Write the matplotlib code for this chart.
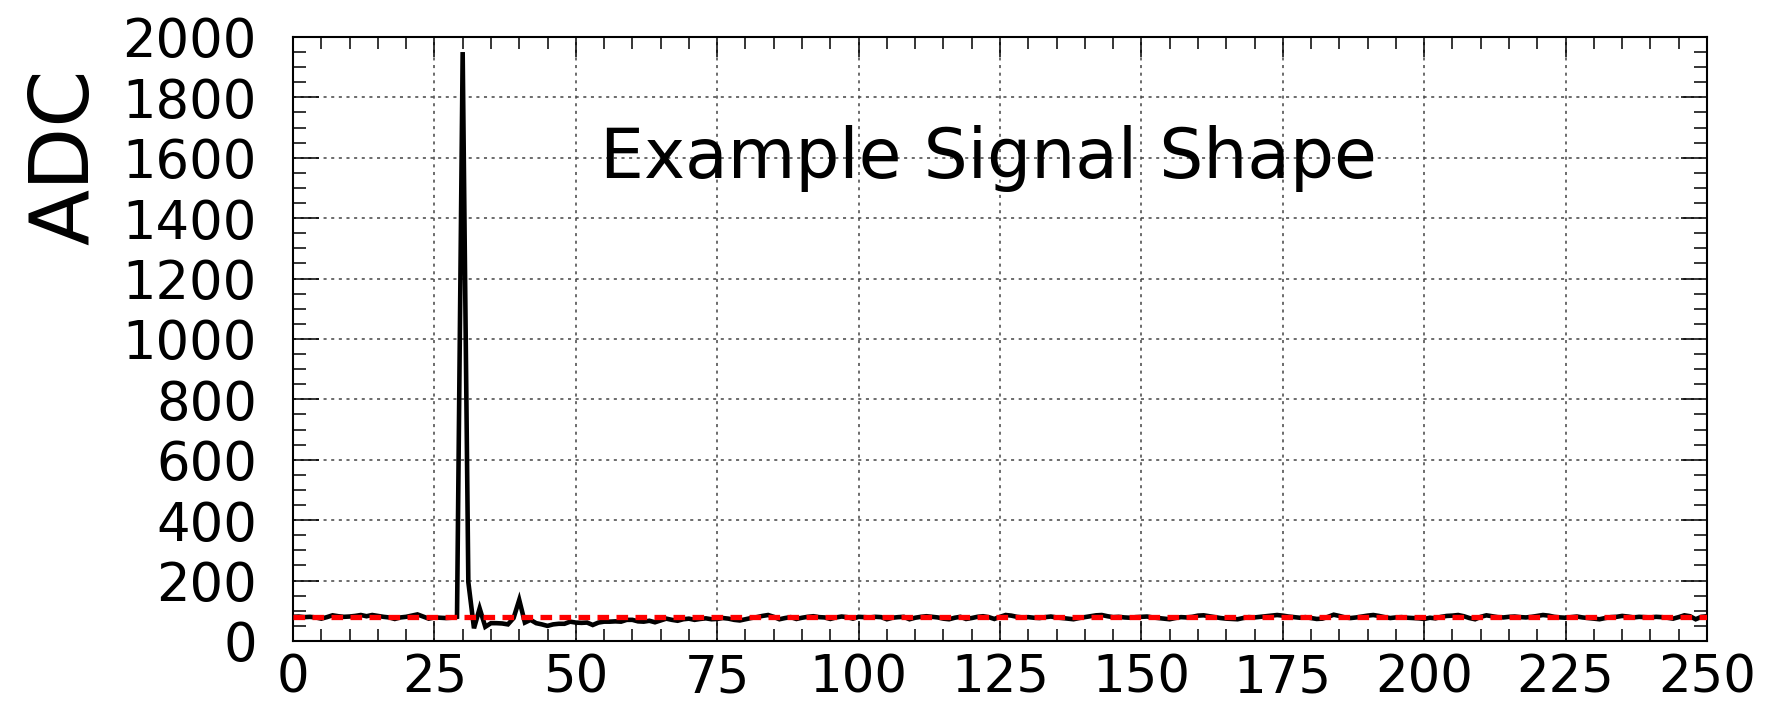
import numpy as np
import matplotlib
matplotlib.use("Agg")
import matplotlib.pyplot as plt
from matplotlib.ticker import MultipleLocator

# ADC samples for one readout window (one value per time sample)
samples = np.arange(251)
adc = [
    80, 81, 79, 80, 78, 74, 79, 85, 82, 80,
    81, 83, 86, 82, 86, 83, 80, 78, 73, 78,
    80, 84, 88, 81, 74, 78, 77, 76, 77, 80,
    1950, 195, 42, 108, 47, 59, 59, 58, 55, 76,
    136, 61, 70, 59, 55, 50, 55, 57, 57, 64,
    61, 60, 61, 53, 61, 64, 64, 65, 64, 70,
    70, 65, 64, 67, 62, 68, 74, 70, 67, 72,
    74, 70, 73, 75, 72, 73, 76, 74, 70, 68,
    72, 76, 79, 83, 86, 80, 72, 76, 79, 73,
    77, 80, 82, 79, 78, 73, 78, 81, 79, 74,
    80, 79, 78, 80, 79, 72, 77, 79, 80, 72,
    77, 80, 82, 80, 78, 74, 72, 77, 80, 73,
    76, 80, 82, 79, 73, 80, 86, 84, 80, 78,
    79, 77, 76, 79, 81, 78, 76, 74, 72, 76,
    79, 82, 85, 86, 82, 79, 80, 78, 77, 79,
    80, 81, 78, 76, 74, 72, 76, 79, 78, 80,
    84, 85, 82, 79, 76, 74, 73, 72, 76, 79,
    78, 80, 82, 84, 86, 84, 81, 79, 77, 79,
    76, 73, 74, 80, 87, 83, 78, 76, 78, 81,
    84, 86, 83, 79, 76, 78, 79, 77, 76, 75,
    73, 77, 75, 80, 83, 84, 86, 82, 76, 72,
    80, 85, 82, 79, 78, 80, 81, 79, 78, 80,
    83, 86, 84, 80, 78, 77, 79, 81, 78, 76,
    74, 72, 76, 79, 80, 83, 81, 78, 80, 79,
    78, 80, 79, 77, 74, 79, 85, 82, 72, 80,
    82,
]
pedestal = 78

x_ticks = [0, 25, 50, 75, 100, 125, 150, 175, 200, 225, 250]
y_ticks = [0, 200, 400, 600, 800, 1000, 1200, 1400, 1600, 1800, 2000]

plt.rcParams["font.family"] = ["DejaVu Sans"]

fig = plt.figure(figsize=(17.68, 7.04), dpi=100)
ax = fig.add_axes([0.16572, 0.0895, 0.79977, 0.858])

ax.plot(samples, adc, color="black", lw=3.3, solid_joinstyle="miter", zorder=3)
ax.axhline(pedestal, color="#ff0000", lw=3.8, dashes=(2.2, 1.4),
           dash_capstyle="butt", zorder=4)

ax.set_xlim(0, 250)
ax.set_ylim(0, 2000)
ax.set_xticks(x_ticks)
ax.set_yticks(y_ticks)
ax.xaxis.set_minor_locator(MultipleLocator(5))
ax.yaxis.set_minor_locator(MultipleLocator(50))

ax.grid(True, which="major", color="#444444", lw=1.1, linestyle=(0, (2, 3)))
ax.set_axisbelow(True)

for s in ax.spines.values():
    s.set_linewidth(1.5)

ax.tick_params(axis="both", which="both", direction="in", top=True, right=True,
               colors="black", width=1.1)
ax.tick_params(axis="x", which="major", length=14.5, labelsize=37, pad=9)
ax.tick_params(axis="x", which="minor", length=8.6)
ax.tick_params(axis="y", which="major", length=18.5, labelsize=38, pad=26)
ax.tick_params(axis="y", which="minor", length=9.4)

ax.text(-0.145, 0.948, "ADC", transform=ax.transAxes, rotation=90,
        rotation_mode="anchor", ha="right", va="baseline", fontsize=59)

ax.text(123, 1533, "Example Signal Shape", ha="center", va="baseline",
        fontsize=50)

fig.savefig("out.png", dpi=100, facecolor="white")
